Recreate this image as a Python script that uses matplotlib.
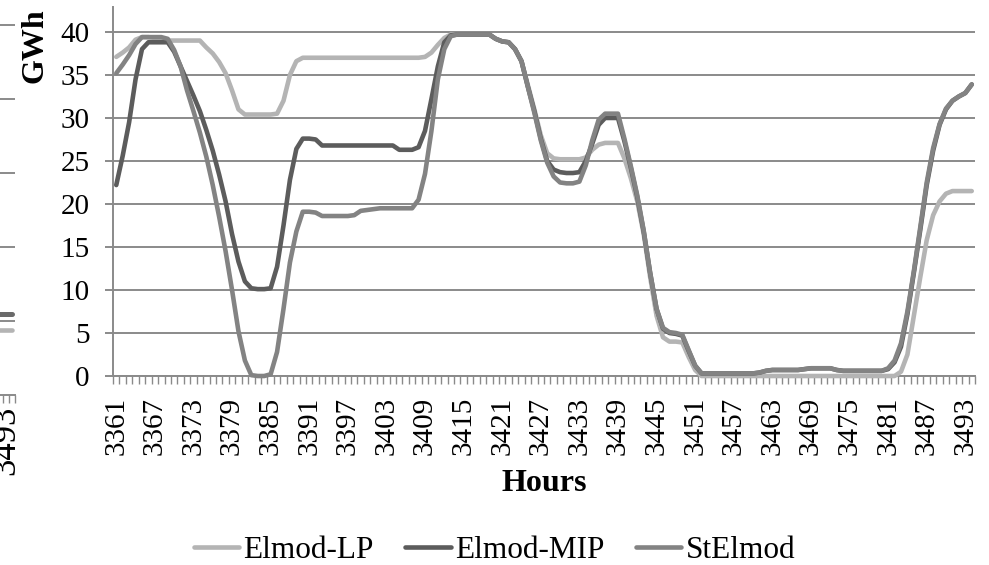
import matplotlib
matplotlib.use('Agg')
import matplotlib.pyplot as plt
import numpy as np

plt.rcParams['font.family'] = ['Liberation Serif', 'DejaVu Serif']

# hourly dispatch, GWh
hours = list(range(3361, 3495))

elmod_lp = [37.1, 37.6, 38.2, 39.1, 39.4, 39.4, 39.3, 39.1, 39.0, 39.0,
            39.0, 39.0, 39.0, 39.0, 38.2, 37.5, 36.5, 35.2, 33.2, 31.0,
            30.4, 30.4, 30.4, 30.4, 30.4, 30.5, 32.0, 35.0, 36.6, 37.0,
            37.0, 37.0, 37.0, 37.0, 37.0, 37.0, 37.0, 37.0, 37.0, 37.0,
            37.0, 37.0, 37.0, 37.0, 37.0, 37.0, 37.0, 37.0, 37.1, 37.6,
            38.5, 39.3, 39.7, 39.7, 39.7, 39.7, 39.7, 39.7, 39.7, 39.2,
            38.9, 38.8, 38.0, 36.6, 33.8, 31.0, 28.0, 25.9, 25.3, 25.2,
            25.2, 25.2, 25.2, 25.4, 26.3, 26.9, 27.1, 27.1, 27.1, 25.3,
            23.0, 20.3, 16.5, 11.5, 7.0, 4.5, 4.0, 4.0, 3.9, 2.2,
            0.7, 0.0, 0.0, 0.0, 0.0, 0.0, 0.0, 0.0, 0.0, 0.0,
            0.0, 0.0, 0.0, 0.0, 0.0, 0.0, 0.0, 0.0, 0.0, 0.0,
            0.0, 0.0, 0.0, 0.0, 0.0, 0.0, 0.0, 0.0, 0.0, 0.0,
            0.0, 0.0, 0.5, 2.5, 7.0, 11.5, 15.8, 18.7, 20.3, 21.2,
            21.5, 21.5, 21.5, 21.5]

elmod_mip = [22.2, 25.6, 29.5, 34.5, 38.0, 38.8, 38.8, 38.8, 38.8, 37.7,
             36.0, 34.3, 32.6, 30.8, 28.6, 26.2, 23.4, 20.3, 16.5, 13.3,
             11.0, 10.2, 10.1, 10.1, 10.2, 12.7, 17.5, 22.8, 26.4, 27.6,
             27.6, 27.5, 26.8, 26.8, 26.8, 26.8, 26.8, 26.8, 26.8, 26.8,
             26.8, 26.8, 26.8, 26.8, 26.3, 26.3, 26.3, 26.6, 28.5, 32.2,
             36.0, 38.8, 39.6, 39.7, 39.7, 39.7, 39.7, 39.7, 39.7, 39.2,
             38.9, 38.8, 38.0, 36.6, 33.6, 30.8, 27.6, 25.0, 24.0, 23.7,
             23.6, 23.6, 23.7, 25.0, 27.0, 29.2, 30.0, 30.0, 30.0, 27.3,
             24.2, 20.8, 16.8, 12.0, 7.8, 5.5, 5.0, 4.9, 4.7, 2.9,
             1.2, 0.3, 0.3, 0.3, 0.3, 0.3, 0.3, 0.3, 0.3, 0.3,
             0.4, 0.6, 0.7, 0.7, 0.7, 0.7, 0.7, 0.8, 0.9, 0.9,
             0.9, 0.9, 0.7, 0.6, 0.6, 0.6, 0.6, 0.6, 0.6, 0.6,
             0.8, 1.6, 3.4, 7.2, 12.0, 17.0, 22.2, 26.2, 29.2, 31.0,
             32.0, 32.5, 32.9, 33.9]

stelmod = [35.2, 36.2, 37.3, 38.6, 39.4, 39.4, 39.4, 39.4, 39.2, 37.9,
           36.0, 33.2, 30.8, 28.3, 25.5, 22.2, 18.5, 14.5, 10.0, 5.2,
           1.8, 0.1, 0.0, 0.0, 0.2, 2.8, 7.8, 13.2, 16.8, 19.1,
           19.1, 19.0, 18.6, 18.6, 18.6, 18.6, 18.6, 18.7, 19.2, 19.3,
           19.4, 19.5, 19.5, 19.5, 19.5, 19.5, 19.5, 20.5, 23.5, 28.5,
           34.5, 38.0, 39.5, 39.7, 39.7, 39.7, 39.7, 39.7, 39.7, 39.2,
           38.9, 38.8, 38.0, 36.6, 33.6, 30.6, 27.4, 24.8, 23.2, 22.5,
           22.4, 22.4, 22.6, 24.5, 27.4, 29.8, 30.5, 30.5, 30.5, 27.6,
           24.4, 21.0, 16.9, 12.0, 7.8, 5.6, 5.1, 5.0, 4.8, 3.0,
           1.2, 0.3, 0.3, 0.3, 0.3, 0.3, 0.3, 0.3, 0.3, 0.3,
           0.4, 0.6, 0.7, 0.7, 0.7, 0.7, 0.7, 0.8, 0.9, 0.9,
           0.9, 0.9, 0.7, 0.6, 0.6, 0.6, 0.6, 0.6, 0.6, 0.6,
           0.9, 1.8, 3.8, 7.5, 12.2, 17.3, 22.5, 26.5, 29.3, 31.1,
           32.0, 32.5, 32.9, 33.9]

series_names = ['Elmod-LP', 'Elmod-MIP', 'StElmod']
series_colors = ['#b4b4b4', '#5c5c5c', '#838383']
yticks = [0, 5, 10, 15, 20, 25, 30, 35, 40]

# tail of the neighbouring panel (only its last hours show at the left edge)
nb_hours = [3492, 3493, 3494]
nb_dark = [1.1, 1.1, 1.1]
nb_light = [0.88, 0.88, 0.88]

grid_col = '#8a8a8a'

fig = plt.figure(figsize=(9.89, 5.65), dpi=100)

# neighbouring panel, cut off by the left edge
nb = fig.add_axes([-60 / 989, 0.3009, 75 / 989, 0.6991])
nb.set_xlim(133.5 - 75 / 6.43, 133.5)
nb.set_ylim(0, 395 / 74)
nbx = [h - 3361 for h in nb_hours]
nb.plot(nbx, nb_light, color='#b4b4b4', lw=3.3, solid_capstyle='round', clip_on=False)
nb.plot(nbx, nb_dark, color='#6a6a6a', lw=3.6, solid_capstyle='round', clip_on=False)
nb.set_yticks([1, 2, 3, 4, 5])
nb.yaxis.grid(True, color=grid_col, lw=1.4)
nb.set_axisbelow(True)
nb.tick_params(axis='y', length=0, labelleft=False)
nb.set_xticks([3493 - 3361])
nb.set_xticklabels(['3493'], rotation=90)
nb.set_xticks(np.arange(121.5, 134), minor=True)
nb.tick_params(axis='x', which='major', length=0, labelsize=25, pad=8)
nb.tick_params(axis='x', which='minor', length=6, width=1.0, color=grid_col)
for side in ['top', 'right', 'left']:
    nb.spines[side].set_visible(False)
nb.spines['bottom'].set_color(grid_col)
nb.spines['bottom'].set_linewidth(1.4)

ax = fig.add_axes([0.1143, 0.3345, 0.8715, 0.6531])

x = np.arange(len(hours))
for vals, name, col in zip([elmod_lp, elmod_mip, stelmod], series_names, series_colors):
    ax.plot(x, vals, color=col, lw=3.3, label=name,
            solid_joinstyle='round', solid_capstyle='round', clip_on=False, zorder=3)

ax.set_xlim(-0.5, len(hours) - 0.5)
ax.set_ylim(0, 42.9)

ax.set_yticks(yticks)
ax.set_yticklabels([str(v) for v in yticks])
ax.yaxis.grid(True, color=grid_col, lw=1.4)
ax.set_axisbelow(True)
ax.tick_params(axis='y', length=6, width=1.4, color=grid_col, labelsize=21, pad=11)

# labels every 6 hours, tick marks on every category boundary
ax.set_xticks(x[::6])
ax.set_xticklabels([str(h) for h in hours[::6]], rotation=90)
ax.set_xticks(np.arange(-0.5, len(hours)), minor=True)
ax.tick_params(axis='x', which='major', length=0, labelsize=21, pad=15)
ax.tick_params(axis='x', which='minor', length=6, width=1.0, color=grid_col)

for side in ['top', 'right']:
    ax.spines[side].set_visible(False)
for side in ['left', 'bottom']:
    ax.spines[side].set_color(grid_col)
    ax.spines[side].set_linewidth(1.4)

fig.text(0.035, 0.92, 'GWh', rotation=90, fontsize=23, fontweight='bold',
         ha='center', va='center')
fig.text(0.550, 0.145, 'Hours', fontsize=23, fontweight='bold', ha='center', va='center')

fig.legend(loc='center', bbox_to_anchor=(0.5, 0.026), ncol=3, frameon=False,
           fontsize=22.5, handlelength=1.45, handletextpad=0.15, columnspacing=1.0)

fig.savefig('out.png', dpi=100)
